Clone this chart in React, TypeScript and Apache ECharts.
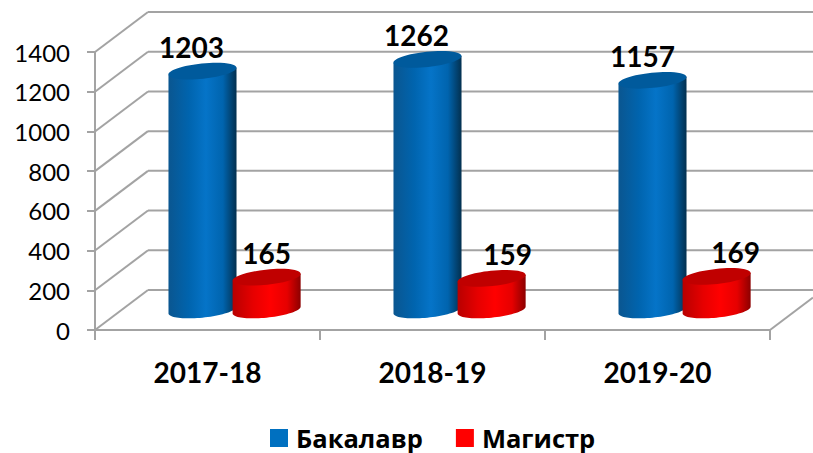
import React, { useEffect, useRef } from "react";
import * as echarts from "echarts";

const categories = ["2017-18", "2018-19", "2019-20"];
const bachelor = [1203, 1262, 1157];
const master = [165, 159, 169];
const yTicks = [0, 200, 400, 600, 800, 1000, 1200, 1400];
const bachelorName = "Бакалавр";
const masterName = "Магистр";

const FONT = "Lato, 'Open Sans', sans-serif";
const GRID = "#a3a3a3";
const DEPTH_X = 53;
const DEPTH_Y = -40;
const TILT = (-6 * Math.PI) / 180;
const RX = 0.152; // share of a category's band
const RY = 7.6;

// Hand-placed label shifts, as in the source chart (px)
const bachelorLabelShift = [-11, -11, -10];
const masterLabelShift = [0, 16, 19];

function ellipsePoint(cx: number, cy: number, a: number, b: number, t: number) {
  return [
    cx + a * Math.cos(t) * Math.cos(TILT) - b * Math.sin(t) * Math.sin(TILT),
    cy + a * Math.cos(t) * Math.sin(TILT) + b * Math.sin(t) * Math.cos(TILT),
  ];
}

function cylinderRenderer(opts: {
  bandShift: number;
  side: string[];
  top: string;
  labelShift: number[];
}) {
  return (params: any, api: any) => {
    const value = api.value(1);
    const band = api.size([1, 0])[0];
    const front = api.coord([api.value(0), value]);
    const base = api.coord([api.value(0), 0]);
    const cx = front[0] + band * opts.bandShift + DEPTH_X / 2;
    const topY = front[1] + DEPTH_Y / 2;
    const botY = base[1] + DEPTH_Y / 2;
    const a = band * RX;
    const t0 = Math.atan2(-RY * Math.sin(TILT), a * Math.cos(TILT));
    const pts: number[][] = [];
    const n = 40;
    for (let i = 0; i <= n; i++) {
      const t = t0 + Math.PI - (Math.PI * i) / n;
      pts.push(ellipsePoint(cx, botY, a, RY, t));
    }
    pts.push(ellipsePoint(cx, topY, a, RY, t0));
    pts.push(ellipsePoint(cx, topY, a, RY, t0 + Math.PI));
    const [c0, c1, c2, c3] = opts.side;
    return {
      type: "group",
      children: [
        {
          type: "polygon",
          shape: { points: pts },
          style: {
            fill: new echarts.graphic.LinearGradient(0, 0, 1, 0, [
              { offset: 0, color: c0 },
              { offset: 0.3, color: c1 },
              { offset: 0.55, color: c2 },
              { offset: 0.8, color: c1 },
              { offset: 1, color: c3 },
            ]),
          },
        },
        {
          type: "ellipse",
          x: cx,
          y: topY,
          rotation: -TILT,
          shape: { cx: 0, cy: 0, rx: a, ry: RY },
          style: { fill: opts.top },
        },
        {
          type: "text",
          x: cx + opts.labelShift[params.dataIndex],
          y: topY - 24,
          style: {
            text: String(value),
            fontFamily: FONT,
            fontWeight: 700,
            fontSize: 28,
            fill: "#000",
            align: "center",
            verticalAlign: "middle",
          },
        },
      ],
    };
  };
}

function wallRenderer(params: any, api: any) {
  const sys = params.coordSys;
  const y = api.coord([categories[0], api.value(0)])[1];
  const right = api.getWidth();
  const line = (x1: number, y1: number, x2: number, y2: number) => ({
    type: "line",
    shape: { x1, y1, x2, y2 },
    style: { stroke: GRID, lineWidth: 2 },
  });
  const children = [
    line(sys.x, y, sys.x + DEPTH_X, y + DEPTH_Y),
    line(sys.x + DEPTH_X, y + DEPTH_Y, right, y + DEPTH_Y),
  ];
  if (api.value(0) === 0) {
    const end = sys.x + sys.width;
    children.push(line(end, y, right, y + (DEPTH_Y * (right - end)) / DEPTH_X));
  }
  return { type: "group", children };
}

export default function App() {
  const ref = useRef<HTMLDivElement>(null);
  useEffect(() => {
    document.body.style.margin = "0";
    const chart = echarts.init(ref.current!, undefined, { renderer: "svg" });
    chart.setOption({
      animation: false,
      backgroundColor: "#fff",
      grid: { left: 95, right: 43, top: 52, bottom: 123 },
      legend: {
        left: 265,
        top: 420,
        itemWidth: 18,
        itemHeight: 18,
        itemGap: 33,
        icon: "rect",
        data: [bachelorName, masterName],
        textStyle: {
          fontFamily: "'Open Sans', sans-serif",
          fontWeight: 700,
          fontSize: 25.5,
          color: "#000",
          padding: [0, 0, 0, 3],
        },
      },
      xAxis: {
        type: "category",
        data: categories,
        axisLine: { lineStyle: { color: GRID, width: 2 } },
        axisTick: { show: true, length: 10, lineStyle: { color: GRID, width: 2 } },
        axisLabel: { margin: 28, fontFamily: FONT, fontWeight: 700, fontSize: 28, color: "#000" },
      },
      yAxis: {
        type: "value",
        min: 0,
        max: 1400,
        interval: 200,
        axisLine: { show: true, lineStyle: { color: GRID, width: 2 } },
        axisTick: { show: true, length: 8, lineStyle: { color: GRID, width: 2 } },
        axisLabel: {
          margin: 25,
          fontFamily: FONT,
          fontSize: 24,
          color: "#000",
          formatter: (v: number) => String(v),
        },
        splitLine: { show: false },
      },
      series: [
        {
          type: "custom",
          name: "walls",
          silent: true,
          data: yTicks.map((v) => [v]),
          encode: { y: 0 },
          renderItem: wallRenderer,
          z: 1,
        },
        {
          type: "custom",
          name: bachelorName,
          itemStyle: { color: "#0070c0" },
          data: categories.map((c, i) => [c, bachelor[i]]),
          encode: { x: 0, y: 1 },
          renderItem: cylinderRenderer({
            bandShift: -0.14,
            side: ["#0a5690", "#0064ae", "#0574c8", "#03304f"],
            top: "#005a9c",
            labelShift: bachelorLabelShift,
          }),
          z: 3,
        },
        {
          type: "custom",
          name: masterName,
          itemStyle: { color: "#ff0000" },
          data: categories.map((c, i) => [c, master[i]]),
          encode: { x: 0, y: 1 },
          renderItem: cylinderRenderer({
            bandShift: 0.145,
            side: ["#b80000", "#e60000", "#ff0000", "#8c0000"],
            top: "#c00000",
            labelShift: masterLabelShift,
          }),
          z: 4,
        },
      ],
    });
    return () => chart.dispose();
  }, []);
  return <div ref={ref} style={{ width: 813, height: 453 }} />;
}
